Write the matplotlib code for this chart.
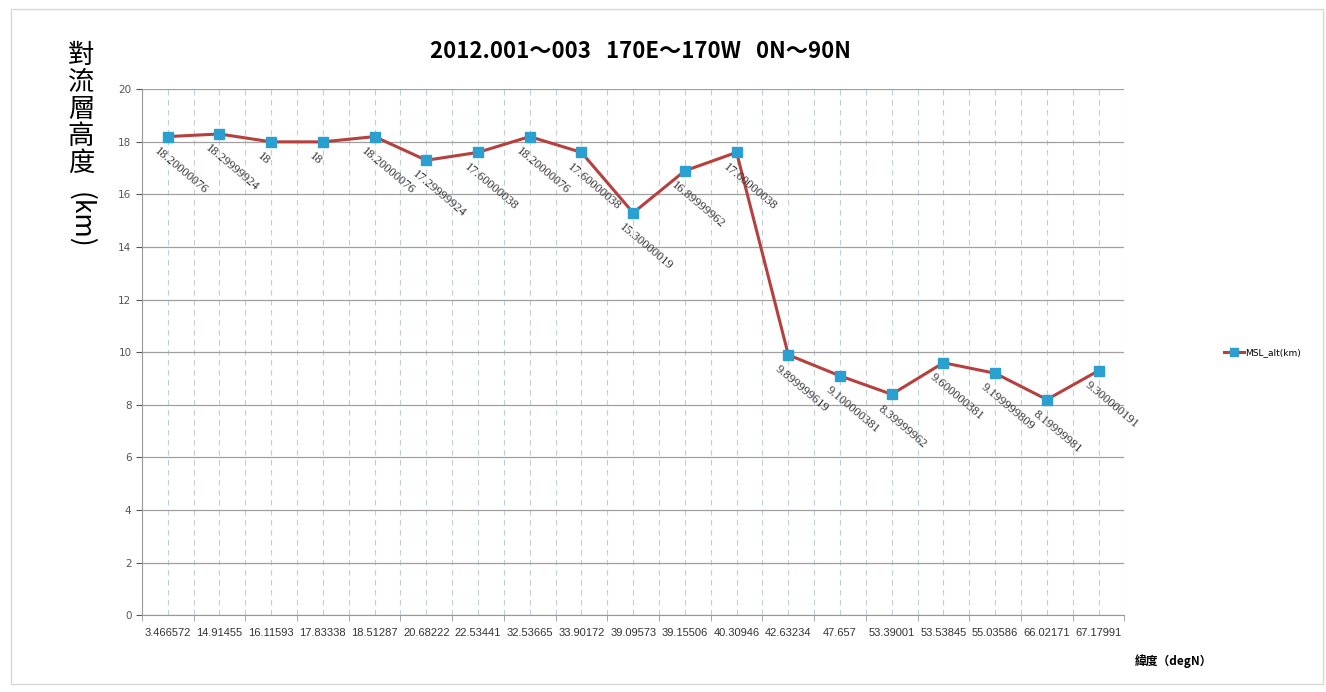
import matplotlib
matplotlib.use("Agg")
from matplotlib import pyplot as plt
from matplotlib.patches import Rectangle
import numpy as np

# latitude (degN) of each sample and tropopause height (km)
lat_labels = ["3.466572", "14.91455", "16.11593", "17.83338", "18.51287",
              "20.68222", "22.53441", "32.53665", "33.90172", "39.09573",
              "39.15506", "40.30946", "42.63234", "47.657", "53.39001",
              "53.53845", "55.03586", "66.02171", "67.17991"]
msl_alt = [18.20000076, 18.29999924, 18, 18, 18.20000076,
           17.29999924, 17.60000038, 18.20000076, 17.60000038, 15.30000019,
           16.89999962, 17.60000038, 9.899999619, 9.100000381, 8.399999619,
           9.600000381, 9.199999809, 8.199999809, 9.300000191]
val_labels = ["18.20000076", "18.29999924", "18", "18", "18.20000076",
              "17.29999924", "17.60000038", "18.20000076", "17.60000038", "15.30000019",
              "16.89999962", "17.60000038", "9.899999619", "9.100000381", "8.39999962",
              "9.600000381", "9.199999809", "8.19999981", "9.300000191"]

cjk = ["Noto Sans CJK TC", "DejaVu Sans"]

fig = plt.figure(figsize=(13.26, 6.92), dpi=100)
ax = fig.add_axes([0.107, 0.111, 0.741, 0.760])

x = np.arange(len(msl_alt))
ax.plot(x, msl_alt, color="#B5403E", lw=2.2, marker="s", markersize=7,
        markerfacecolor="#2A9FD0", markeredgecolor="#2A9FD0", label="MSL_alt(km)", zorder=3)

# value labels, slanted down-right under each point
for xi, yi, s in zip(x, msl_alt, val_labels):
    ax.annotate(s, (xi, yi), xytext=(-6, -6), textcoords="offset points",
                rotation=-40, rotation_mode="anchor", ha="left", va="top",
                fontsize=9, family="Liberation Serif", color="#333333")

ax.set_xlim(-0.5, len(x) - 0.5)
ax.set_ylim(0, 20)
ax.set_yticks(np.arange(0, 21, 2))
ax.set_xticks(x)
ax.set_xticklabels(lat_labels, fontsize=8, family="Liberation Sans", color="#333333")
ax.set_xticks(np.arange(-0.5, len(x), 1), minor=True)
ax.tick_params(axis="y", labelsize=7.5, colors="#555555", length=4, width=0.8)
ax.tick_params(axis="x", which="major", length=0, pad=9)
ax.tick_params(axis="x", which="minor", length=4, color="#999999")

ax.grid(axis="y", color="#A0A0A0", lw=0.9)
ax.grid(axis="x", which="both", color="#BFCFD8", lw=0.8, ls=(0, (5, 4)))
ax.set_axisbelow(True)
for side in ["top", "right"]:
    ax.spines[side].set_visible(False)
for side in ["left", "bottom"]:
    ax.spines[side].set_color("#999999")

fig.text(0.483, 0.925, "2012.001～003   170E～170W   0N～90N", ha="center", va="center",
         fontsize=16, fontweight="bold", family=cjk)

# vertical y-axis title: stacked characters then rotated unit
fig.text(0.061, 0.94, "對\n流\n層\n高\n度", ha="center", va="top",
         fontsize=19, family=cjk, linespacing=1.0)
fig.text(0.061, 0.722, "(km)", ha="center", va="top", rotation=-90,
         fontsize=19, family=cjk)

fig.text(0.885, 0.044, "緯度（degN）", ha="center", va="center",
         fontsize=8.5, fontweight="bold", family=cjk)

ax.legend(loc="center left", bbox_to_anchor=(1.093, 0.5), frameon=False,
          fontsize=6.5, handlelength=2.2, handletextpad=0.2, markerscale=0.8)

# thin chart frame
fig.patches.append(Rectangle((0.008, 0.012), 0.99, 0.975, transform=fig.transFigure,
                             fill=False, edgecolor="#D8D8D8", lw=1))

plt.savefig("out.png", dpi=100)
